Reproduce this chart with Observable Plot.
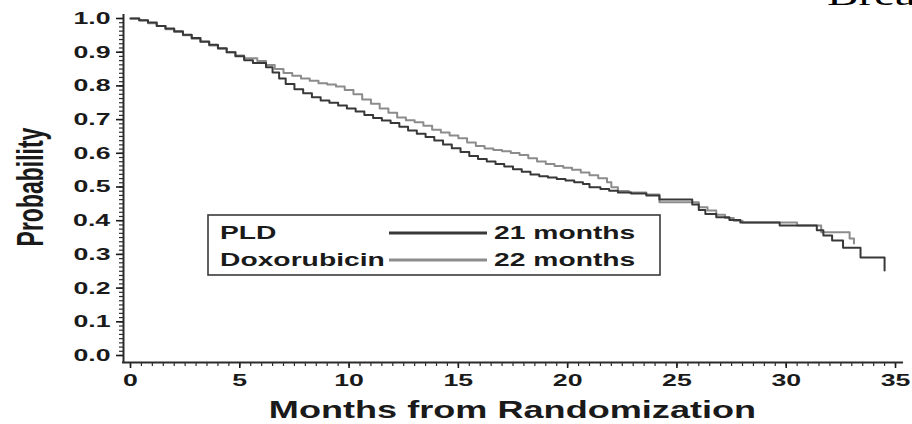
<!DOCTYPE html>
<html>
<head>
<meta charset="utf-8">
<script src="https://cdn.jsdelivr.net/npm/d3@7"></script>
<script src="https://cdn.jsdelivr.net/npm/@observablehq/plot@0.6"></script>
<style>
  html, body { margin: 0; padding: 0; background: #fff; }
  #chart svg { display: block; }
</style>
</head>
<body>
<div id="chart"></div>
<script>
// Treatment arms and their median progression-free times
const arms = ["PLD", "Doxorubicin"];
const medianMonths = [21, 22];

// Kaplan-Meier estimates: time of each step (months) and survival after it
const pldMonths = [0, 0.4, 0.8, 1.2, 1.6, 2.0, 2.4, 2.8, 3.2, 3.6, 4.0, 4.4, 4.8, 5.2, 5.6, 6.2, 6.5, 6.8, 7.1, 7.5,
  7.9, 8.3, 8.7, 9.1, 9.5, 9.9, 10.3, 10.7, 11.1, 11.5, 11.9, 12.3, 12.7, 13.1, 13.5, 13.9, 14.3, 14.7, 15.1, 15.5,
  15.9, 16.3, 16.7, 17.1, 17.5, 17.9, 18.3, 18.7, 19.1, 19.5, 19.9, 20.3, 20.7, 21.0, 21.5, 21.9, 22.3, 22.9, 23.6, 24.2,
  25.7, 26.0, 26.3, 26.8, 27.4, 27.9, 29.7, 31.4, 31.7, 32.1, 32.6, 33.4, 34.5];
const pldSurvival = [1.000, 0.995, 0.988, 0.978, 0.970, 0.962, 0.952, 0.942, 0.932, 0.922, 0.912, 0.900, 0.888, 0.876, 0.868, 0.855, 0.840, 0.822, 0.806, 0.790,
  0.778, 0.766, 0.757, 0.750, 0.742, 0.733, 0.724, 0.714, 0.705, 0.697, 0.690, 0.679, 0.668, 0.658, 0.648, 0.638, 0.626, 0.615, 0.604, 0.592,
  0.583, 0.576, 0.568, 0.561, 0.553, 0.545, 0.537, 0.532, 0.528, 0.524, 0.519, 0.514, 0.509, 0.499, 0.494, 0.489, 0.484, 0.481, 0.475, 0.463,
  0.448, 0.432, 0.420, 0.410, 0.402, 0.395, 0.386, 0.372, 0.356, 0.341, 0.320, 0.291, 0.252];

const doxMonths = [0, 0.4, 0.8, 1.2, 1.6, 2.0, 2.4, 2.8, 3.2, 3.6, 4.0, 4.4, 4.8, 5.2, 5.8, 6.2, 6.6, 7.0, 7.4, 7.8,
  8.2, 8.6, 9.0, 9.4, 9.8, 10.2, 10.6, 11.0, 11.4, 11.8, 12.2, 12.6, 13.0, 13.4, 13.8, 14.2, 14.6, 15.0, 15.4, 15.8,
  16.2, 16.6, 17.0, 17.4, 17.8, 18.2, 18.6, 19.0, 19.4, 19.8, 20.2, 20.6, 21.0, 21.4, 21.8, 22.0, 22.3, 22.8, 23.6, 24.2,
  26.0, 26.4, 26.8, 27.2, 27.6, 28.0, 30.5, 31.6, 32.9, 33.1];
const doxSurvival = [1.000, 0.994, 0.986, 0.978, 0.968, 0.960, 0.950, 0.940, 0.930, 0.920, 0.910, 0.900, 0.890, 0.882, 0.874, 0.862, 0.850, 0.838, 0.830, 0.822,
  0.815, 0.808, 0.804, 0.798, 0.788, 0.775, 0.760, 0.747, 0.733, 0.720, 0.706, 0.698, 0.692, 0.682, 0.670, 0.662, 0.653, 0.645, 0.632, 0.622,
  0.614, 0.610, 0.606, 0.601, 0.595, 0.585, 0.576, 0.568, 0.562, 0.557, 0.551, 0.543, 0.535, 0.526, 0.514, 0.499, 0.488, 0.484, 0.478, 0.455,
  0.440, 0.430, 0.418, 0.408, 0.400, 0.395, 0.386, 0.366, 0.347, 0.332];

// Axis ticks
const xTicks = [0, 5, 10, 15, 20, 25, 30, 35];
const yTicks = [0, 0.1, 0.2, 0.3, 0.4, 0.5, 0.6, 0.7, 0.8, 0.9, 1.0];
const xMinorTicks = d3.range(0, 35.01, 0.5);
const yMinorTicks = d3.range(0, 1.0001, 0.0125);

const xLabel = "Months from Randomization";
const yLabel = "Probability";
const headline = "Breast Cancer";

const armColors = ["#383838", "#8c8c8c"];
const axisColor = "#2b2b2b";
const textColor = "#1a1a1a";
const font = "'Liberation Sans', Arial, Helvetica, sans-serif";

const pldRows = pldMonths.map((m, i) => ({month: m, survival: pldSurvival[i]}));
const doxRows = doxMonths.map((m, i) => ({month: m, survival: doxSurvival[i]}));

const plot = Plot.plot({
  width: 912,
  height: 424,
  marginLeft: 130,
  marginRight: 17,
  marginTop: 18,
  marginBottom: 69,
  x: {domain: [0, 35]},
  y: {domain: [0, 1]},
  style: {fontFamily: font, background: "#fff", overflow: "visible"},
  marks: [
    // minor ticks
    Plot.axisY(yMinorTicks, {tickSize: 4, dx: -7, tickFormat: () => "", color: axisColor, strokeWidth: 1.2, label: null}),
    Plot.axisX(xMinorTicks, {tickSize: 4, dy: 7, tickFormat: () => "", color: axisColor, strokeWidth: 1.2, label: null}),
    // major ticks and labels
    Plot.axisY(yTicks, {tickSize: 7, tickPadding: 6, dx: -7, tickFormat: d3.format(".1f"), color: textColor,
      fontSize: 17, fontWeight: "bold", strokeWidth: 1.6, label: null}),
    Plot.axisX(xTicks, {tickSize: 6, tickPadding: 5, dy: 7, tickFormat: d3.format("d"), color: textColor,
      fontSize: 17, fontWeight: "bold", strokeWidth: 1.6, label: null}),
    // axis lines, offset from the data area
    Plot.ruleX([0], {y1: 1, y2: 0, dx: -7, insetTop: -4, insetBottom: -8, stroke: axisColor, strokeWidth: 2}),
    Plot.ruleY([0], {x1: 0, x2: 35, dy: 7, insetLeft: -8, insetRight: -8, stroke: axisColor, strokeWidth: 2}),
    // survival curves
    Plot.line(doxRows, {x: "month", y: "survival", curve: "step-after", stroke: armColors[1], strokeWidth: 2}),
    Plot.line(pldRows, {x: "month", y: "survival", curve: "step-after", stroke: armColors[0], strokeWidth: 2})
  ]
});

document.getElementById("chart").appendChild(plot);

const svg = d3.select(plot);

// axis titles
svg.append("text")
  .attr("x", (130 + 895) / 2).attr("y", 418)
  .attr("text-anchor", "middle")
  .attr("font-family", font).attr("font-weight", "bold").attr("font-size", 23)
  .attr("fill", textColor)
  .text(xLabel);

svg.append("text")
  .attr("transform", "translate(38,187) rotate(-90)")
  .attr("text-anchor", "middle")
  .attr("font-family", font).attr("font-weight", "bold").attr("font-size", 23)
  .attr("fill", textColor)
  .text(yLabel);

// slide headline, running off the right edge
svg.append("text")
  .attr("x", 827).attr("y", 5)
  .attr("text-anchor", "start")
  .attr("font-family", "'Liberation Serif', 'Times New Roman', serif").attr("font-size", 30)
  .attr("fill", "#000")
  .text(headline);

// legend box with arm names, line samples and medians
const legend = svg.append("g")
  .attr("text-anchor", "start")
  .attr("font-family", font).attr("font-weight", "bold").attr("font-size", 18).attr("fill", textColor);
legend.append("rect")
  .attr("x", 208).attr("y", 215).attr("width", 452).attr("height", 60)
  .attr("fill", "none").attr("stroke", "#3a3a3a").attr("stroke-width", 1.6);
arms.forEach((arm, i) => {
  const base = 239 + i * 27;
  legend.append("text").attr("x", 220).attr("y", base).text(arm);
  legend.append("line")
    .attr("x1", 389).attr("x2", 487).attr("y1", base - 6).attr("y2", base - 6)
    .attr("stroke", armColors[i]).attr("stroke-width", 3);
  legend.append("text").attr("x", 494).attr("y", base).text(`${medianMonths[i]} months`);
});

// widen every label horizontally about its anchor point
function widenText(root, k) {
  for (const t of root.querySelectorAll("text")) {
    const r = t.getBoundingClientRect();
    if (!r.width) continue;
    const anchor = getComputedStyle(t).textAnchor;
    const cx = anchor === "end" ? r.right : anchor === "middle" ? (r.left + r.right) / 2 : r.left;
    const p = new DOMPoint(cx, (r.top + r.bottom) / 2).matrixTransform(t.parentNode.getScreenCTM().inverse());
    const g = document.createElementNS("http://www.w3.org/2000/svg", "g");
    g.setAttribute("transform", `translate(${p.x},0) scale(${k},1) translate(${-p.x},0)`);
    t.parentNode.insertBefore(g, t);
    g.appendChild(t);
  }
}
widenText(plot, 1.57);
</script>
</body>
</html>
